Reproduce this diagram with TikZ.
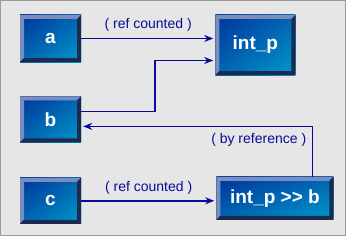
\documentclass[tikz,border=0pt]{standalone}
\usepackage{fontspec}
\setmainfont{Liberation Sans}
\usepackage{xcolor}
\usetikzlibrary{arrows.meta,positioning,shadings}
\definecolor{bgray}{HTML}{E6E6E6}
\definecolor{rimgray}{HTML}{9A9A9A}
\definecolor{boxdark}{HTML}{003399}
\definecolor{boxmid}{HTML}{0066B3}
\definecolor{boxlight}{HTML}{0099CC}
\definecolor{bevlight}{HTML}{7A8DBE}
\definecolor{bevdark}{HTML}{1B2A4E}
\definecolor{wire}{HTML}{0A0A99}
\newcommand{\bevelrim}{%
  \fill[bevlight] (path picture bounding box.south west) -- (path picture bounding box.north west)
    -- (path picture bounding box.north east) -- ([shift={(-4pt,-4pt)}]path picture bounding box.north east)
    -- ([shift={(4pt,-4pt)}]path picture bounding box.north west) -- ([shift={(4pt,4pt)}]path picture bounding box.south west) -- cycle;
  \fill[bevdark] (path picture bounding box.south west) -- (path picture bounding box.south east)
    -- (path picture bounding box.north east) -- ([shift={(-4pt,-4pt)}]path picture bounding box.north east)
    -- ([shift={(-4pt,4pt)}]path picture bounding box.south east) -- ([shift={(4pt,4pt)}]path picture bounding box.south west) -- cycle;
}

\begin{document}
\begin{tikzpicture}[
  x=1pt,y=1pt,
  objbox/.style={inner sep=0pt,minimum width=61pt,minimum height=46pt,
    upper left=boxdark,upper right=boxmid,lower left=boxmid,lower right=boxlight,
    path picture={\bevelrim},text=white,font=\fontsize{19}{19}\selectfont\bfseries},
  tag/.style={inner sep=0pt,text=wire,font=\fontsize{14}{14}\selectfont},
  link/.style={draw=wire,line width=1.8pt,-{Stealth[length=9pt,width=7pt]},shorten >=2pt}
]
\useasboundingbox (0,0) rectangle (347,236);
\draw[rimgray,fill=bgray,line width=1pt] (0.5,0.5) rectangle (345.5,235.5);

\node[objbox,minimum height=47pt] (a) at (50.5,197.5) {a};
\node[objbox,below=34pt of a] (b) {b};
\node[objbox,below=35pt of b] (c) {c};
\node[objbox,minimum width=80pt,minimum height=60pt,right=134pt of a.north east,anchor=north west] (intp) {int\_p};
\node[objbox,minimum width=117pt,minimum height=43pt,right=135pt of c,yshift=2.5pt] (intpb) {int\_p {>}{>} b};

\draw[link] (a.east) -- node[tag,midway,above=6pt] {( ref counted )} (a.east -| intp.west);
\draw[link] ([yshift=8pt]b.east) -- ++(74pt,0) |- ([yshift=-15.5pt]intp.west);
\draw[link] ([xshift=37.5pt]intpb.north) |- coordinate[pos=0.5] (bend) ([yshift=-7pt]b.east);
\node[tag,below left=7pt and 6pt of bend] (byref) {( by reference )};
\draw[link] (c.east) -- node[tag,midway,above=6pt] {( ref counted )} (c.east -| intpb.west);
\end{tikzpicture}
\end{document}
